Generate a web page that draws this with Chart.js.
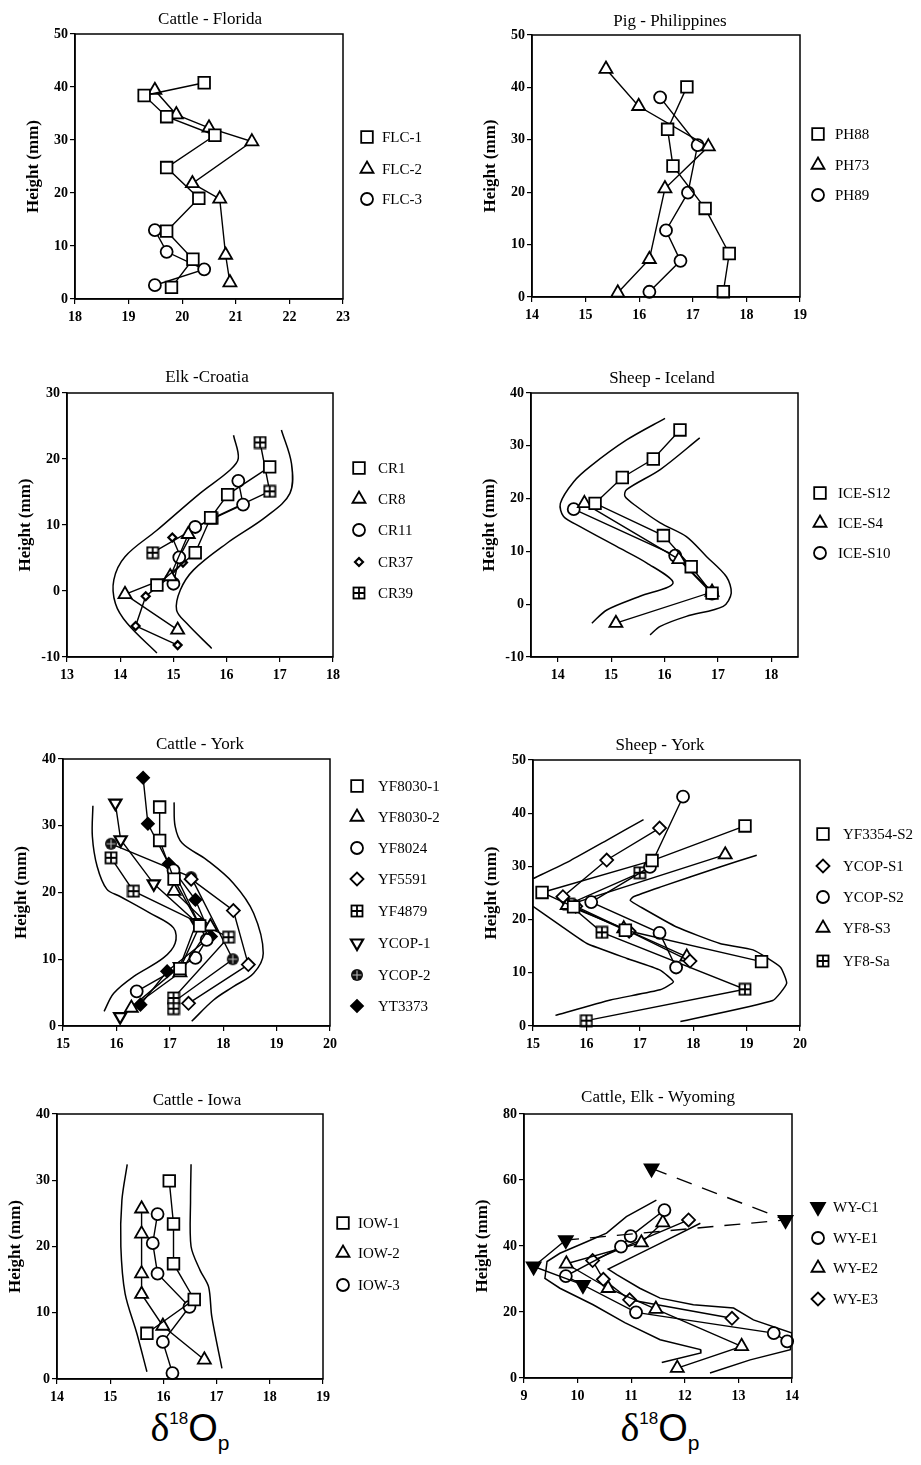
<!DOCTYPE html>
<html><head><meta charset="utf-8">
<script src="https://cdn.jsdelivr.net/npm/chart.js@4.4.1/dist/chart.umd.min.js"></script>
<style>
body{margin:0;background:#fff;width:921px;height:1465px;position:relative;overflow:hidden;}
.delta{position:absolute;font-family:'Liberation Sans',Arial,sans-serif;font-size:38px;color:#000;transform:translateX(-50%);white-space:nowrap;line-height:1;}
.delta .d{font-family:'Liberation Serif','Times New Roman',serif;font-size:40px;}
.delta .sup{font-size:17px;position:relative;top:-17px;}
.delta .sub{font-size:21px;position:relative;top:9px;}
</style></head><body>
<div class="delta" style="left:190px;top:1408px"><span class="d">δ</span><span class="sup">18</span>O<span class="sub">p</span></div>
<div class="delta" style="left:660px;top:1408px"><span class="d">δ</span><span class="sup">18</span>O<span class="sub">p</span></div>
<script>
// ---------- DATA: [δ18Op, height (mm)] ----------
// Cattle - Florida
const flc1 = [[20.41,40.8],[19.29,38.4],[19.71,34.4],[20.61,30.9],[19.71,24.8],[20.31,19.0],[19.71,12.8],[20.20,7.5],[19.80,2.2]];
const flc2 = [[19.49,39.4],[19.89,34.8],[20.50,32.3],[21.30,29.7],[20.19,21.8],[20.70,18.9],[20.81,8.3],[20.89,3.1]];
const flc3 = [[19.49,13.0],[19.71,8.9],[20.41,5.6],[19.49,2.6]];
// Pig - Philippines
const ph88 = [[16.89,40.1],[16.53,32.0],[16.63,25.0],[17.23,16.9],[17.68,8.3],[17.57,1.0]];
const ph73 = [[15.38,43.5],[15.99,36.4],[17.29,28.7],[16.48,20.7],[16.19,7.2],[15.60,0.8]];
const ph89 = [[16.39,38.1],[17.09,29.0],[16.91,19.9],[16.50,12.7],[16.77,6.9],[16.19,1.0]];
// Elk - Croatia
const cr1  = [[16.81,18.8],[16.02,14.6],[15.70,11.1],[15.41,5.8],[14.69,0.9]];
const cr8  = [[15.28,8.6],[14.94,2.2],[14.09,-0.5],[15.08,-5.9]];
const cr11 = [[16.22,16.7],[16.31,13.1],[15.41,9.7],[15.11,5.1],[15.00,1.1]];
const cr37 = [[14.98,8.1],[15.18,4.3],[14.94,2.2],[14.48,-0.8],[14.29,-5.3],[15.08,-8.2]];
const cr39 = [[16.63,22.5],[16.81,15.1],[15.73,11.0],[14.61,5.8]];
const crEnvL = [[16.13,23.6],[16.22,20.1],[16.06,18.3],[15.50,14.8],[14.69,9.2],[14.09,5.2],[13.88,1.7],[13.91,-1.9],[14.13,-4.9],[14.69,-9.4]];
const crEnvR = [[17.03,24.4],[17.22,19.3],[17.19,14.8],[16.75,11.3],[16.00,7.2],[15.38,3.2],[15.13,0.15],[15.06,-2.9],[15.25,-4.9],[15.72,-8.7]];
// Sheep - Iceland
const ice12 = [[16.29,33.0],[15.79,27.5],[15.21,24.0],[14.70,19.1],[15.98,13.0],[16.50,7.1],[16.89,2.1]];
const ice4  = [[14.50,19.1],[16.27,8.5],[16.89,2.3],[15.09,-3.6]];
const ice10 = [[14.30,18.0],[16.20,9.2],[16.89,2.0]];
const iceEnvL = [[16.01,35.2],[15.29,31.1],[14.61,26.1],[14.30,23.2],[14.05,19.1],[14.11,16.6],[14.42,14.7],[15.11,10.9],[15.67,7.8],[16.16,4.0],[15.54,1.5],[14.92,-1.1],[14.64,-3.6]];
const iceEnvR = [[16.66,31.5],[15.92,25.5],[15.29,21.7],[15.26,20.4],[15.48,18.5],[15.92,15.4],[16.41,12.8],[16.79,9.0],[17.16,5.2],[17.25,2.1],[17.10,-0.4],[16.41,-2.3],[15.92,-4.2],[15.73,-5.8]];
// Cattle - York
const yf80301 = [[16.81,32.8],[16.81,27.8],[17.08,22.0],[17.56,15.0],[17.19,8.6]];
const yf80302 = [[17.08,20.2],[17.76,14.9],[17.19,8.0],[16.28,2.7]];
const yf8024  = [[17.07,23.3],[17.69,12.9],[17.48,10.2],[16.38,5.2]];
const yf5591  = [[17.40,22.0],[18.19,17.3],[18.47,9.2],[17.35,3.4]];
const yf4879  = [[15.90,25.2],[16.32,20.2],[18.10,13.3],[17.07,4.2],[17.07,2.6]];
const ycop1   = [[15.98,33.4],[16.08,27.9],[16.70,21.3],[17.50,15.5],[17.19,8.9],[16.07,1.4]];
const ycop2   = [[15.90,27.3],[17.40,22.3],[18.18,10.0],[17.07,3.6]];
const yt3373  = [[16.50,37.2],[16.59,30.3],[16.98,24.3],[17.48,18.9],[17.77,13.4],[16.95,8.2],[16.45,3.2]];
const cyEnvL = [[15.56,33.0],[15.55,28.4],[15.64,23.9],[15.82,20.5],[16.07,19.4],[16.63,16.9],[17.07,14.7],[17.10,12.4],[16.88,10.2],[16.32,7.4],[15.95,4.9],[15.77,2.2]];
const cyEnvR = [[17.08,33.5],[17.10,29.9],[17.23,27.4],[17.69,24.9],[18.19,21.4],[18.57,16.9],[18.75,10.9],[18.57,7.9],[18.19,5.9],[17.82,3.9],[17.41,0.7]];
// Sheep - York
const yf3354s2 = [[18.97,37.6],[17.23,31.1],[15.17,25.1],[15.76,22.4],[16.73,18.0],[19.28,12.1]];
const ycops1   = [[17.37,37.2],[16.38,31.2],[15.56,24.3],[15.80,22.5],[16.80,17.8],[17.94,12.2]];
const ycops2   = [[17.81,43.1],[17.19,29.9],[16.09,23.3],[17.37,17.5],[17.68,11.0]];
const yf8s3    = [[18.60,32.2],[15.64,22.7],[16.70,18.3],[17.88,13.0]];
const yf8sa    = [[17.00,28.8],[15.67,22.9],[16.29,17.6],[18.97,6.9],[16.00,1.0]];
const syEnvU = [[15.00,27.7],[15.70,31.1],[16.38,34.9],[17.07,38.8]];
const syEnvR = [[19.19,32.1],[18.50,29.9],[17.38,26.1],[16.88,24.3],[16.82,23.6],[17.01,22.4],[17.69,18.6],[18.50,15.5],[19.12,14.3],[19.63,11.1],[19.75,8.0],[19.49,4.8],[17.76,0.85]];
const syEnvL = [[15.00,22.5],[15.51,18.9],[16.01,15.5],[16.76,12.7],[17.38,10.5],[17.63,8.3],[17.38,6.8],[16.45,4.9],[15.42,2.0]];
// Cattle - Iowa
const iow1 = [[16.11,29.9],[16.19,23.4],[16.19,17.4],[16.58,12.0],[15.69,6.9]];
const iow2 = [[15.59,25.7],[15.59,21.9],[15.59,15.9],[15.59,12.8],[15.99,8.0],[16.77,2.9]];
const iow3 = [[15.89,24.9],[15.80,20.5],[15.89,15.9],[16.49,10.9],[15.99,5.6],[16.17,0.9]];
const iowEnvL = [[15.32,32.4],[15.22,27.0],[15.20,20.0],[15.28,12.9],[15.50,6.9],[15.69,1.1]];
const iowEnvR = [[16.52,32.4],[16.51,27.0],[16.52,20.0],[16.69,16.4],[16.85,13.9],[16.91,9.4],[17.10,1.6]];
// Cattle, Elk - Wyoming
const wyC1 = [[11.38,63.5],[13.88,47.9],[9.78,41.8],[9.18,33.8],[10.10,28.2]];
const wyE1 = [[11.62,50.9],[10.99,43.0],[10.81,39.8],[9.78,30.9],[11.09,19.9],[13.66,13.6],[13.91,11.1]];
const wyE2 = [[11.59,47.1],[11.19,41.0],[9.79,34.6],[10.57,27.2],[11.46,20.9],[13.06,9.6],[11.86,3.0]];
const wyE3 = [[12.07,47.9],[10.28,35.6],[10.48,29.9],[10.97,23.7],[12.88,18.1]];
const wyEnvL = [[11.47,53.9],[10.91,48.9],[10.54,43.9],[10.17,41.3],[9.67,37.8],[9.43,35.3],[9.39,30.2],[9.67,27.2],[10.29,22.2],[10.88,16.8],[11.54,11.6],[12.29,8.6],[12.30,7.6],[11.57,4.7]];
const wyEnvR = [[12.29,46.9],[11.54,40.8],[11.04,36.8],[10.57,33.0],[10.73,31.3],[11.16,27.2],[11.54,24.2],[12.16,22.2],[12.91,21.2],[13.28,17.6],[14.00,13.6],[13.97,8.6],[13.22,5.5],[12.47,1.5]];
// Tick labels
const xtFL = [18,19,20,21,22,23], ytFL = [0,10,20,30,40,50];
const xtPH = [14,15,16,17,18,19], ytPH = [0,10,20,30,40,50];
const xtCR = [13,14,15,16,17,18], ytCR = [-10,0,10,20,30];
const xtICE = [14,15,16,17,18], ytICE = [-10,0,10,20,30,40];
const xtCY = [15,16,17,18,19,20], ytCY = [0,10,20,30,40];
const xtSY = [15,16,17,18,19,20], ytSY = [0,10,20,30,40,50];
const xtIOW = [14,15,16,17,18,19], ytIOW = [0,10,20,30,40];
const xtWY = [9,10,11,12,13,14], ytWY = [0,20,40,60,80];

// ---------- STYLES ----------
const SERIF = "'Liberation Serif','Times New Roman',serif";
function mkImg(kind){
  const c=document.createElement('canvas'); c.width=14; c.height=14;
  const g=c.getContext('2d'); g.strokeStyle='#000'; g.fillStyle='#fff'; g.lineWidth=1.8;
  if(kind==='sqplus'){
    g.fillRect(1.5,1.5,11,11); g.strokeRect(1.5,1.5,11,11);
    g.beginPath(); g.moveTo(7,1.5); g.lineTo(7,12.5); g.moveTo(1.5,7); g.lineTo(12.5,7); g.stroke();
  } else {
    g.fillStyle='#111'; g.beginPath(); g.arc(7,7,6,0,2*Math.PI); g.fill();
    g.strokeStyle='#bbb'; g.lineWidth=1.1; g.beginPath(); g.moveTo(7,2.5); g.lineTo(7,11.5); g.moveTo(2.5,7); g.lineTo(11.5,7); g.stroke();
  }
  return c;
}
const IMG_SQP = mkImg('sqplus'), IMG_CP = mkImg('cplus');
const ST = {
  sq:{ps:'rect',r:8.2}, tri:{ps:'triangle',r:7.5}, cir:{ps:'circle',r:6},
  dia:{ps:'rectRot',r:6.5}, sdia:{ps:'rectRot',r:4,bw:2.2},
  sqp:{ps:IMG_SQP,r:7}, itri:{ps:'triangle',r:7,rot:180,bw:2.2},
  cp:{ps:IMG_CP,r:6}, fdia:{ps:'rectRot',r:6,bg:'#000'},
  fitri:{ps:'triangle',r:8,rot:180,bg:'#000'}
};

function drawMarker(c, st, x, y){
  c.save(); c.translate(x,y); c.lineWidth=st.bw||1.8; c.strokeStyle='#000'; c.fillStyle=st.bg||'#fff';
  if (st.ps instanceof HTMLCanvasElement){ c.drawImage(st.ps,-st.ps.width/2,-st.ps.height/2); c.restore(); return; }
  c.rotate((st.rot||0)*Math.PI/180);
  const r=st.r; c.beginPath();
  if(st.ps==='rect'){ const s=r*Math.SQRT1_2; c.rect(-s,-s,2*s,2*s); }
  else if(st.ps==='circle'){ c.arc(0,0,r,0,2*Math.PI); }
  else if(st.ps==='triangle'){ for(let k=0;k<3;k++){ const an=k*2*Math.PI/3; const px=Math.sin(an)*r, py=-Math.cos(an)*r; if(k) c.lineTo(px,py); else c.moveTo(px,py);} c.closePath(); }
  else if(st.ps==='rectRot'){ c.moveTo(-r,0); c.lineTo(0,-r); c.lineTo(r,0); c.lineTo(0,r); c.closePath(); }
  c.fill(); c.stroke(); c.restore();
}

const PANELS = [
 {title:'Cattle - Florida', box:[75,34,268,265], xr:[18,23], yr:[0,50], xt:xtFL, yt:ytFL, R:140, tx:210, ty:20,
  lx:367, ltx:382, ly:[137,169,199], tens:0,
  series:[{label:'FLC-1',data:flc1,st:ST.sq},{label:'FLC-2',data:flc2,st:ST.tri},{label:'FLC-3',data:flc3,st:ST.cir}], env:[]},
 {title:'Pig - Philippines', box:[532,35,268,262], xr:[14,19], yr:[0,50], xt:xtPH, yt:ytPH, R:121, tx:670, ty:22,
  lx:818, ltx:835, ly:[134,165,195], tens:0,
  series:[{label:'PH88',data:ph88,st:ST.sq},{label:'PH73',data:ph73,st:ST.tri},{label:'PH89',data:ph89,st:ST.cir}], env:[]},
 {title:'Elk -Croatia', box:[67,393,266,264], xr:[13,18], yr:[-10,30], xt:xtCR, yt:ytCR, R:140, tx:207, ty:378,
  lx:359, ltx:378, ly:[468,499,530,562,593], tens:0.35,
  series:[{label:'CR1',data:cr1,st:ST.sq},{label:'CR8',data:cr8,st:ST.tri},{label:'CR11',data:cr11,st:ST.cir},{label:'CR37',data:cr37,st:ST.sdia},{label:'CR39',data:cr39,st:ST.sqp}],
  env:[crEnvL,crEnvR]},
 {title:'Sheep - Iceland', box:[531,393,267,264], xr:[13.5,18.5], yr:[-10,40], xt:xtICE, yt:ytICE, R:122, tx:662, ty:379,
  lx:820, ltx:838, ly:[493,523,553], tens:0.3,
  series:[{label:'ICE-S12',data:ice12,st:ST.sq},{label:'ICE-S4',data:ice4,st:ST.tri},{label:'ICE-S10',data:ice10,st:ST.cir}],
  env:[iceEnvL,iceEnvR]},
 {title:'Cattle - York', box:[63,759,267,267], xr:[15,20], yr:[0,40], xt:xtCY, yt:ytCY, R:140, tx:200, ty:745,
  lx:357, ltx:378, ly:[786,817,848,879,911,943,975,1006], tens:0.35,
  series:[{label:'YF8030-1',data:yf80301,st:ST.sq},{label:'YF8030-2',data:yf80302,st:ST.tri},{label:'YF8024',data:yf8024,st:ST.cir},
          {label:'YF5591',data:yf5591,st:ST.dia},{label:'YF4879',data:yf4879,st:ST.sqp},{label:'YCOP-1',data:ycop1,st:ST.itri},
          {label:'YCOP-2',data:ycop2,st:ST.cp},{label:'YT3373',data:yt3373,st:ST.fdia}],
  env:[cyEnvL,cyEnvR]},
 {title:'Sheep - York', box:[533,760,267,266], xr:[15,20], yr:[0,50], xt:xtSY, yt:ytSY, R:120, tx:660, ty:746,
  lx:823, ltx:843, ly:[834,866,897,928,961], tens:0.15,
  series:[{label:'YF3354-S2',data:yf3354s2,st:ST.sq},{label:'YCOP-S1',data:ycops1,st:ST.dia},{label:'YCOP-S2',data:ycops2,st:ST.cir},
          {label:'YF8-S3',data:yf8s3,st:ST.tri},{label:'YF8-Sa',data:yf8sa,st:ST.sqp}],
  env:[syEnvU,syEnvR,syEnvL]},
 {title:'Cattle - Iowa', box:[57,1114,266,265], xr:[14,19], yr:[0,40], xt:xtIOW, yt:ytIOW, R:140, tx:197, ty:1101,
  lx:343, ltx:358, ly:[1223,1253,1285], tens:0.3,
  series:[{label:'IOW-1',data:iow1,st:ST.sq},{label:'IOW-2',data:iow2,st:ST.tri},{label:'IOW-3',data:iow3,st:ST.cir}],
  env:[iowEnvL,iowEnvR]},
 {title:'Cattle, Elk - Wyoming', box:[524,1114,268,264], xr:[9,14], yr:[0,80], xt:xtWY, yt:ytWY, R:129, tx:658, ty:1098,
  lx:818, ltx:833, ly:[1207,1238,1268,1299], tens:0,
  series:[{label:'WY-C1',data:wyC1,st:ST.fitri,dash:2},{label:'WY-E1',data:wyE1,st:ST.cir},{label:'WY-E2',data:wyE2,st:ST.tri},{label:'WY-E3',data:wyE3,st:ST.dia}],
  env:[wyEnvL,wyEnvR]}
];

function mkChart(p){
  const ox = p.box[0]-60, oy = p.box[1]-50;
  const W = p.box[2]+60+p.R, H = p.box[3]+80;
  const cv = document.createElement('canvas');
  cv.width=W; cv.height=H;
  cv.style.cssText=`position:absolute;left:${ox}px;top:${oy}px;width:${W}px;height:${H}px;`;
  document.body.appendChild(cv);
  const datasets = p.series.map(s => {
    const d = {label:s.label, data:s.data.map(([x,y])=>({x,y})), showLine:true, borderColor:'#000', borderWidth:1.4,
      pointBorderColor:'#000', pointBackgroundColor:s.st.bg||'#fff', pointStyle:s.st.ps, pointRadius:s.st.r,
      pointHoverRadius:s.st.r, pointRotation:s.st.rot||0, pointBorderWidth:s.st.bw||1.8, clip:false, tension:0};
    if (s.dash) d.segment = {borderDash: c => c.p0DataIndex < s.dash ? [16,11] : undefined};
    return d;
  });
  p.env.forEach(e => datasets.push({label:'', data:e.map(([x,y])=>({x,y})), showLine:true, borderColor:'#000',
      borderWidth:1.5, pointRadius:0, pointHoverRadius:0, tension:p.tens}));
  const tickFont = {family:SERIF, size:14, weight:'bold'};
  const grid = {display:true, drawOnChartArea:false, drawTicks:true, tickLength:5, color:'#000', lineWidth:1.2};
  const decor = {id:'decor', afterDraw(chart){
    const c=chart.ctx, a=chart.chartArea;
    c.save(); c.strokeStyle='#000'; c.lineWidth=1.5;
    c.strokeRect(a.left,a.top,a.right-a.left,a.bottom-a.top);
    c.fillStyle='#000'; c.font=`17px ${SERIF}`; c.textAlign='center'; c.textBaseline='middle';
    c.fillText(p.title, p.tx-ox, p.ty-oy);
    p.series.forEach((s,i)=>{
      drawMarker(c, s.st, p.lx-ox, p.ly[i]-oy);
      c.fillStyle='#000'; c.font=`15px ${SERIF}`; c.textAlign='left'; c.textBaseline='middle';
      c.fillText(s.label, p.ltx-ox, p.ly[i]-oy+1);
    });
    c.restore();
  }};
  new Chart(cv, {type:'scatter', data:{datasets}, plugins:[decor], options:{
    responsive:false, animation:false, devicePixelRatio:1, events:[],
    layout:{padding:{left:0, top:50, right:p.R, bottom:5}},
    plugins:{legend:{display:false}, tooltip:{enabled:false}, title:{display:false}},
    scales:{
      x:{type:'linear', min:p.xr[0], max:p.xr[1], afterFit(s){s.height=25;},
         afterBuildTicks(s){s.ticks=p.xt.map(v=>({value:v}));},
         grid, border:{display:true,color:'#000',width:1.5},
         ticks:{color:'#000', font:tickFont, padding:5, maxRotation:0, autoSkip:false}},
      y:{type:'linear', min:p.yr[0], max:p.yr[1], afterFit(s){s.width=60;},
         afterBuildTicks(s){s.ticks=p.yt.map(v=>({value:v}));},
         grid, border:{display:true,color:'#000',width:1.5},
         ticks:{color:'#000', font:tickFont, padding:2, autoSkip:false},
         title:{display:true, text:'Height (mm)', color:'#000', font:{family:SERIF,size:17,weight:'bold'}, padding:{top:8,bottom:0}}}
    }
  }});
}
PANELS.forEach(mkChart);
</script>
</body></html>
